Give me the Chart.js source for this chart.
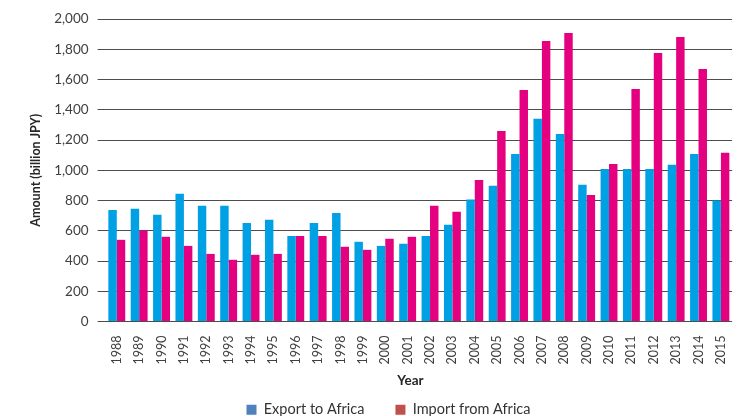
<!DOCTYPE html>
<html>
<head>
<meta charset="utf-8">
<title>Trade with Africa</title>
<script src="https://cdn.jsdelivr.net/npm/chart.js@4.4.1/dist/chart.umd.min.js"></script>
<style>
  html, body { margin: 0; padding: 0; background: #fff; overflow: hidden; }
  /* a bit wider/taller than the window: the last bar is cut off like in the original */
  #wrap { position: relative; width: 750px; height: 427px; }
</style>
</head>
<body>
<div id="wrap"><canvas id="tradeChart"></canvas></div>
<script>
const years = ['1988', '1989', '1990', '1991', '1992', '1993', '1994', '1995', '1996', '1997',
  '1998', '1999', '2000', '2001', '2002', '2003', '2004', '2005', '2006', '2007',
  '2008', '2009', '2010', '2011', '2012', '2013', '2014', '2015'];

const exportToAfrica = [738, 745, 705, 844, 765, 765, 652, 672, 566, 652,
  718, 527, 500, 514, 566, 639, 806, 897, 1108, 1340,
  1240, 904, 1009, 1009, 1009, 1036, 1108, 800];

const importFromAfrica = [540, 601, 560, 500, 447, 408, 441, 447, 566, 566,
  494, 474, 547, 560, 765, 725, 936, 1260, 1531, 1855,
  1908, 837, 1042, 1538, 1776, 1881, 1670, 1115];

const seriesNames = ['Export to Africa', 'Import from Africa'];
const yMin = 0;
const yMax = 2000;
const yStep = 200;

const barColors = ['#00a0e4', '#e4007f'];
// the legend swatches in the original don't match the bars
const legendColors = ['#4f81bd', '#c0504d'];

Chart.defaults.font.family = 'Lato, "Open Sans", sans-serif';
Chart.defaults.color = '#404040';

// "Year" is centred a little left of the plot area in the original
const yearTitleShift = {
  id: 'yearTitleShift',
  afterLayout(chart) {
    const x = chart.scales.x;
    x.right = 2 * 410.5 - x.left;
  }
};

new Chart(document.getElementById('tradeChart'), {
  type: 'bar',
  data: {
    labels: years,
    datasets: [{
      label: seriesNames[0],
      data: exportToAfrica,
      backgroundColor: barColors[0]
    }, {
      label: seriesNames[1],
      data: importFromAfrica,
      backgroundColor: barColors[1]
    }]
  },
  options: {
    responsive: true,
    maintainAspectRatio: false,
    animation: false,
    locale: 'en-US',
    datasets: {
      bar: { categoryPercentage: 0.755, barPercentage: 1, clip: false }
    },
    layout: {
      padding: { left: 32.6, top: 19, right: 5.6, bottom: 0 }
    },
    scales: {
      x: {
        grid: { display: false, drawTicks: false },
        border: { display: false },
        ticks: {
          autoSkip: false,
          minRotation: 90,
          maxRotation: 90,
          padding: 14,
          font: { size: 12.5 }
        },
        title: {
          display: true,
          text: 'Year',
          color: '#262626',
          font: { size: 13.5, weight: 'bold' },
          padding: { top: 0, bottom: -17 }
        },
        afterFit: (axis) => { axis.height = 50; }
      },
      y: {
        min: yMin,
        max: yMax,
        grid: { color: '#4d4d4d', tickLength: 8 },
        border: { display: false },
        ticks: {
          stepSize: yStep,
          padding: 9,
          font: { size: 13.5 }
        },
        title: {
          display: true,
          text: 'Amount (billion JPY)',
          color: '#262626',
          font: { size: 12.5, weight: 'bold' },
          padding: { top: -4, bottom: 0 }
        },
        afterFit: (axis) => { axis.width = 73; }
      }
    },
    plugins: {
      tooltip: { enabled: false },
      legend: {
        position: 'bottom',
        labels: {
          boxWidth: 10,
          boxHeight: 10,
          padding: 31,
          color: '#333',
          font: { size: 14.5 },
          generateLabels: (chart) =>
            Chart.defaults.plugins.legend.labels.generateLabels(chart).map((item, i) => ({
              ...item,
              fillStyle: legendColors[i],
              strokeStyle: legendColors[i],
              lineWidth: 0
            }))
        }
      }
    }
  },
  plugins: [yearTitleShift]
});
</script>
</body>
</html>
